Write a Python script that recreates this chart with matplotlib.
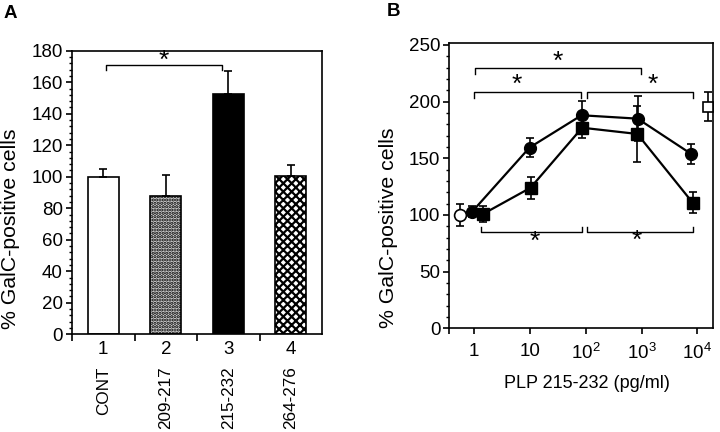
import matplotlib
matplotlib.use("Agg")
import matplotlib.pyplot as plt
import numpy as np
from matplotlib.ticker import FixedLocator, MultipleLocator, NullFormatter

plt.rcParams['font.family'] = ['Liberation Sans', 'DejaVu Sans']
plt.rcParams['mathtext.fontset'] = 'custom'
plt.rcParams['mathtext.rm'] = 'Liberation Sans'
plt.rcParams['mathtext.it'] = 'Liberation Sans'
plt.rcParams['hatch.linewidth'] = 1.6

# ---------------- Panel A data ----------------
a_positions = [1, 2, 3, 4]
a_numbers = ['1', '2', '3', '4']
a_names = ['CONT', '209-217', '215-232', '264-276']
a_values = [100, 88, 152.7, 100.6]
a_errors = [5, 13, 14.5, 6.8]

# ---------------- Panel B data ----------------
circ_x = [0.92, 9.8, 84, 850, 7700]
circ_y = [103, 159.5, 188, 185, 154]
circ_err = [5, 8.5, 13, 20, 9]
sq_x = [1.45, 10.2, 86, 840, 8200]
sq_y = [101, 124, 177, 171.5, 111]
sq_err = [7, 9.5, 9.5, 25, 9]
ctrl_circ_x = [0.55]
ctrl_circ_y = [100]
ctrl_circ_err = [9.3]
ctrl_sq_x = [15700]
ctrl_sq_y = [195.5]
ctrl_sq_err = [13]
b_xticks = [1, 10, 100, 1000, 10000]
b_xticklabels = ['1', '10', r'$10^2$', r'$10^3$', r'$10^4$']

fig = plt.figure(figsize=(7.2, 4.32), dpi=100)

TICK_FS = 13.5
NAME_FS = 12.3
LABEL_FS = 15.3
STAR_FS = 19

# ======================= Panel A =======================
axA = fig.add_axes([72/720, 1 - 334.3/432, 250/720, (334.3 - 50.7)/432])
styles = [
    dict(facecolor='white', hatch=None),
    dict(facecolor='#d4d4d4', hatch='.....'),
    dict(facecolor='black', hatch=None),
    dict(facecolor='white', hatch='xxxx'),
]
for x, v, e, st in zip(a_positions, a_values, a_errors, styles):
    axA.bar(x, v, width=0.5, facecolor=st['facecolor'], edgecolor='black',
            linewidth=1.2, hatch=st['hatch'], zorder=2)
    axA.errorbar(x, v, yerr=[[0], [e]], fmt='none', ecolor='black',
                 elinewidth=1.2, capsize=3, capthick=1.2, zorder=3)
axA.set_xlim(0.5, 4.5)
axA.set_ylim(0, 180)
axA.yaxis.set_major_locator(MultipleLocator(20))
axA.yaxis.set_minor_locator(MultipleLocator(4))
axA.xaxis.set_major_locator(FixedLocator(a_positions))
axA.set_xticklabels(a_numbers)
axA.xaxis.set_minor_locator(FixedLocator([0.5, 1.5, 2.5, 3.5]))
axA.xaxis.set_minor_formatter(NullFormatter())
axA.tick_params(axis='x', which='major', length=0, pad=5, labelsize=TICK_FS)
axA.tick_params(axis='x', which='minor', length=5, width=1.2, direction='out')
axA.tick_params(axis='y', which='major', length=4.5, width=1.2, direction='out',
                labelsize=TICK_FS, pad=2)
axA.tick_params(axis='y', which='minor', length=2.2, width=1, direction='out')
for s in axA.spines.values():
    s.set_linewidth(1.2)
for x, name in zip(a_positions, a_names):
    axA.text(x, -0.113, name, transform=axA.get_xaxis_transform(), rotation=90,
             ha='center', va='top', fontsize=NAME_FS)
# significance bracket
axA.plot([1.05, 1.05, 2.9, 2.9], [167.7, 170.9, 170.9, 167.7], color='black', lw=1)
axA.text(1.97, 173.5, '*', ha='center', va='center', fontsize=STAR_FS)

fig.text(11/720, 1 - 229/432, '% GalC-positive cells', rotation=90,
         ha='center', va='center', fontsize=LABEL_FS)
fig.text(4/720, 1 - 14/432, 'A', fontsize=13.5, fontweight='bold', ha='left', va='center')

# ======================= Panel B =======================
axB = fig.add_axes([449.3/720, 1 - 328.3/432, (712.7 - 449.3)/720, (328.3 - 43.3)/432])
axB.set_xscale('log')
axB.set_xlim(10**-0.448, 10**4.276)
axB.set_ylim(0, 251.5)

axB.errorbar(circ_x, circ_y, yerr=circ_err, fmt='none', ecolor='black',
             elinewidth=1.2, capsize=3, capthick=1.2, zorder=2)
axB.errorbar(sq_x, sq_y, yerr=sq_err, fmt='none', ecolor='black',
             elinewidth=1.2, capsize=3, capthick=1.2, zorder=2)
axB.plot(circ_x, circ_y, '-o', color='black', lw=1.6, ms=8.5, mfc='black',
         mec='black', zorder=4)
axB.plot(sq_x, sq_y, '-s', color='black', lw=1.6, ms=8.5, mfc='black',
         mec='black', zorder=4)
axB.errorbar(ctrl_circ_x, ctrl_circ_y, yerr=ctrl_circ_err, fmt='o', color='black',
             mfc='white', mec='black', ms=8.5, mew=1.2, elinewidth=1.2,
             capsize=3, capthick=1.2, zorder=5)
axB.errorbar(ctrl_sq_x, ctrl_sq_y, yerr=ctrl_sq_err, fmt='s', color='black',
             mfc='white', mec='black', ms=7, mew=1.2, elinewidth=1.2,
             capsize=3, capthick=1.2, zorder=5)

axB.xaxis.set_major_locator(FixedLocator([10**-0.448] + b_xticks))
axB.set_xticklabels([''] + b_xticklabels)
axB.xaxis.set_minor_locator(FixedLocator([]))
axB.yaxis.set_major_locator(MultipleLocator(50))
axB.yaxis.set_minor_locator(MultipleLocator(10))
axB.tick_params(axis='x', which='major', length=4.5, width=1.2, direction='out',
                labelsize=TICK_FS, pad=6)
axB.tick_params(axis='y', which='major', length=4.5, width=1.2, direction='out',
                labelsize=TICK_FS, pad=2)
axB.tick_params(axis='y', which='minor', length=2.2, width=1, direction='out')
for s in axB.spines.values():
    s.set_linewidth(1.2)

def bracket(ax, x0, x1, y, tip):
    ax.plot([x0, x0, x1, x1], [tip, y, y, tip], color='black', lw=1)

bracket(axB, 1.05, 980, 229.4, 224.4)
axB.text(31, 235.5, '*', ha='center', va='center', fontsize=STAR_FS)
bracket(axB, 0.98, 82, 208.8, 203.5)
axB.text(5.7, 215, '*', ha='center', va='center', fontsize=STAR_FS)
bracket(axB, 103, 8300, 208.8, 203.5)
axB.text(1600, 215, '*', ha='center', va='center', fontsize=STAR_FS)
bracket(axB, 1.3, 84, 85.3, 89.7)
axB.text(12.3, 76, '*', ha='center', va='center', fontsize=STAR_FS)
bracket(axB, 103, 8300, 85.3, 89.7)
axB.text(815, 77, '*', ha='center', va='center', fontsize=STAR_FS)

fig.text(587/720, 1 - 383/432, 'PLP 215-232 (pg/ml)', ha='center', va='center',
         fontsize=13)
fig.text(388/720, 1 - 228/432, '% GalC-positive cells', rotation=90,
         ha='center', va='center', fontsize=LABEL_FS)
fig.text(387/720, 1 - 12/432, 'B', fontsize=13.5, fontweight='bold', ha='left', va='center')

fig.savefig('out.png', dpi=100)
